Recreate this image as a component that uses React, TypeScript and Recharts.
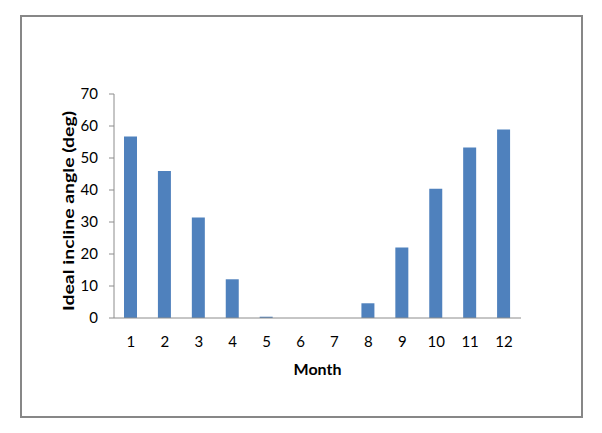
import React from 'react';
import { BarChart, Bar, XAxis, YAxis } from 'recharts';

const months = ['1', '2', '3', '4', '5', '6', '7', '8', '9', '10', '11', '12'];
const angles = [56.7, 45.9, 31.4, 12.1, 0.4, 0, 0, 4.6, 22.0, 40.4, 53.3, 58.9];
const yTicks = [0, 10, 20, 30, 40, 50, 60, 70];

const data = months.map((m, i) => ({ month: m, angle: angles[i] }));

const FONT = 'Lato, "Noto Sans", sans-serif';

export default function App() {
  return (
    <div style={{ position: 'relative', width: 602, height: 433, margin: -8, background: '#fff' }}>
      <div
        style={{
          position: 'absolute',
          left: 20,
          top: 15,
          width: 559,
          height: 399,
          border: '2px solid #878787',
        }}
      />
      <div style={{ position: 'absolute', left: 0, top: 0 }}>
        <BarChart
          width={602}
          height={433}
          data={data}
          margin={{ top: 94, right: 81, bottom: 85, left: 54 }}
          barSize={13}
        >
          <XAxis
            dataKey="month"
            height={30}
            tickLine={false}
            tickSize={0}
            tickMargin={18}
            stroke="#8c8c8c"
            tick={{ fill: '#000', fontSize: 15, fontFamily: FONT }}
            interval={0}
            label={{
              value: 'Month',
              position: 'insideBottom',
              offset: -27,
              fill: '#000',
              fontSize: 16,
              fontWeight: 'bold',
              fontFamily: FONT,
            }}
          />
          <YAxis
            width={60}
            domain={[0, 70]}
            ticks={yTicks}
            interval={0}
            tickSize={5}
            tickMargin={11}
            stroke="#8c8c8c"
            tick={{ fill: '#000', fontSize: 15, fontFamily: FONT }}
            label={{
              content: (props: any) => {
                const vb = props.viewBox || { y: 94, height: 224 };
                const cx = 67;
                const cy = vb.y + vb.height / 2 + 5;
                return (
                  <text
                    x={cx}
                    y={cy}
                    transform={`rotate(-90, ${cx}, ${cy})`}
                    textAnchor="middle"
                    dominantBaseline="central"
                    fill="#000"
                    fontSize={16}
                    fontWeight="bold"
                    fontFamily={FONT}
                    textLength={200}
                    lengthAdjust="spacingAndGlyphs"
                  >
                    Ideal incline angle (deg)
                  </text>
                );
              },
            }}
          />
          <Bar dataKey="angle" fill="#4F81BD" isAnimationActive={false} />
        </BarChart>
      </div>
    </div>
  );
}
